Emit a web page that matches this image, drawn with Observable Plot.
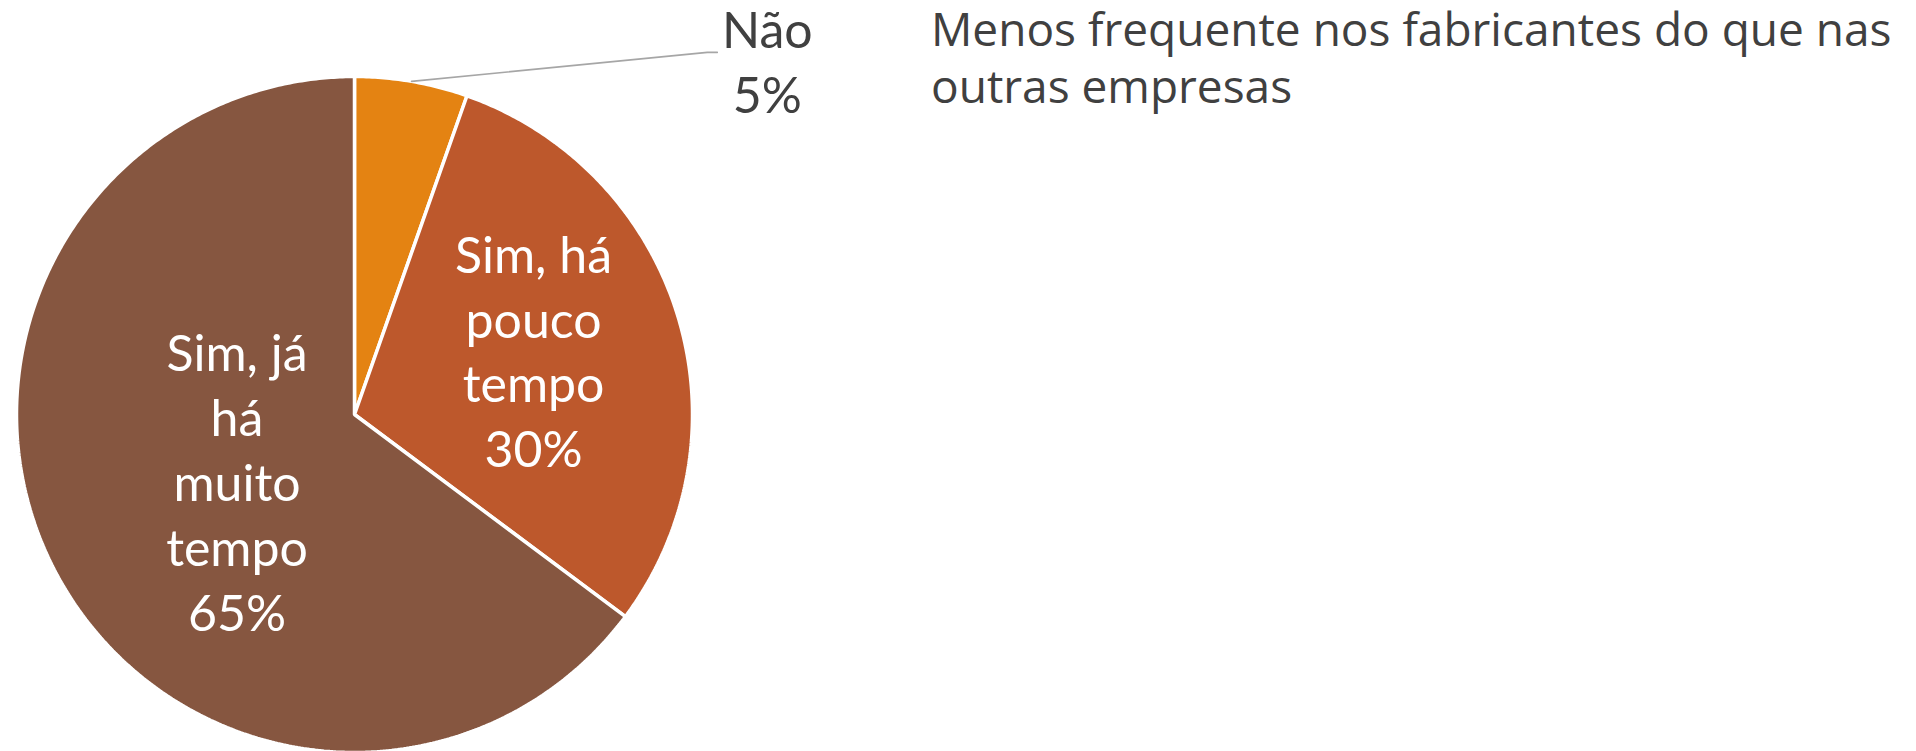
<!DOCTYPE html>
<html><head><meta charset="utf-8">
<script src="https://cdn.jsdelivr.net/npm/d3@7"></script>
<script src="https://cdn.jsdelivr.net/npm/@observablehq/plot@0.6"></script>
<style>
html,body{margin:0;padding:0;background:#fff;overflow:hidden}
#wrap{position:relative;width:1916px;height:751px}
#title{position:absolute;left:931px;top:0;font-family:"Open Sans";font-size:40px;line-height:57px;color:#404040;white-space:nowrap}
</style></head><body>
<div id="wrap"><div id="chart"></div><div id="title"></div></div>
<script>
// ---- data ----
const categories = ["Não", "Sim, há pouco tempo", "Sim, já há muito tempo"];
const values = [5.4, 29.8, 64.8];
const valueLabels = ["5%", "30%", "65%"];
const labelLines = [["Não"], ["Sim, há", "pouco", "tempo"], ["Sim, já", "há", "muito", "tempo"]];
const colors = ["#E48312", "#BD582C", "#865640"];
const titleLines = ["Menos frequente nos fabricantes do que nas", "outras empresas"];

// ---- layout ----
const W = 1916, H = 751, CX = 354, CY = 414, R = 338;
// label placement: polar (angle in degrees from 12 o'clock, radius as fraction of R)
const labelPlace = [
  {angle: 49.3, r: 1.611, inside: false},
  {angle: 69.96, r: 0.5638, inside: true},
  {angle: 240.97, r: 0.3976, inside: true}
];

const data = categories.map((c, i) => ({cat: c, value: values[i]}));
const arcs = d3.pie().sort(null).value(d => d.value).startAngle(0).endAngle(2 * Math.PI)(data);

const pts = [];
for (const a of arcs) {
  pts.push({cat: a.data.cat, x: 0, y: 0});
  const n = Math.max(2, Math.ceil((a.endAngle - a.startAngle) / (Math.PI / 360)));
  for (let k = 0; k <= n; k++) {
    const t = a.startAngle + (a.endAngle - a.startAngle) * k / n;
    pts.push({cat: a.data.cat, x: Math.sin(t), y: Math.cos(t)});
  }
}

const labels = arcs.map((a, i) => {
  const p = labelPlace[i];
  const t = p.angle * Math.PI / 180;
  return {
    cat: a.data.cat,
    x: p.r * Math.sin(t), y: p.r * Math.cos(t),
    text: [...labelLines[i], valueLabels[i]].join("\n"),
    inside: p.inside,
    mid: (a.startAngle + a.endAngle) / 2
  };
});

// leader line for the outside label
const outside = labels.filter(d => !d.inside);
const leader = [];
for (const d of outside) {
  leader.push({x: Math.sin(d.mid), y: Math.cos(d.mid)});
  leader.push({x: d.x - 60 / R, y: d.y + 7 / R});
  leader.push({x: d.x - 50 / R, y: d.y + 7 / R});
}

const chart = Plot.plot({
  width: W, height: H,
  margin: 0,
  x: {domain: [-CX / R, (W - CX) / R], axis: null},
  y: {domain: [-(H - CY) / R, CY / R], axis: null},
  color: {domain: categories, range: colors},
  style: {background: "transparent", overflow: "hidden"},
  marks: [
    Plot.line(pts, {x: "x", y: "y", z: "cat", fill: "cat", stroke: "white", strokeWidth: 3.5, curve: "linear-closed", strokeLinejoin: "miter"}),
    Plot.line(leader, {x: "x", y: "y", stroke: "#A6A6A6", strokeWidth: 1.6}),
    Plot.text(labels.filter(d => d.inside), {x: "x", y: "y", text: "text", fill: "white", fontSize: 50, lineHeight: 1.3, fontFamily: "Lato", textAnchor: "middle", lineAnchor: "middle"}),
    Plot.text(outside, {x: "x", y: "y", text: "text", fill: "#404040", fontSize: 50, lineHeight: 1.3, fontFamily: "Lato", textAnchor: "middle", lineAnchor: "middle"})
  ]
});
document.getElementById("chart").appendChild(chart);

const title = document.getElementById("title");
title.innerHTML = titleLines.map(s => s.replace(/&/g, "&amp;").replace(/</g, "&lt;")).join("<br>");
const ctx = document.createElement("canvas").getContext("2d");
ctx.font = "40px 'Open Sans'";
const w = ctx.measureText(titleLines[0]).width;
const fs = Math.min(46, Math.max(34, 40 * 962 / w));
title.style.fontSize = fs.toFixed(2) + "px";
</script>
</body></html>
